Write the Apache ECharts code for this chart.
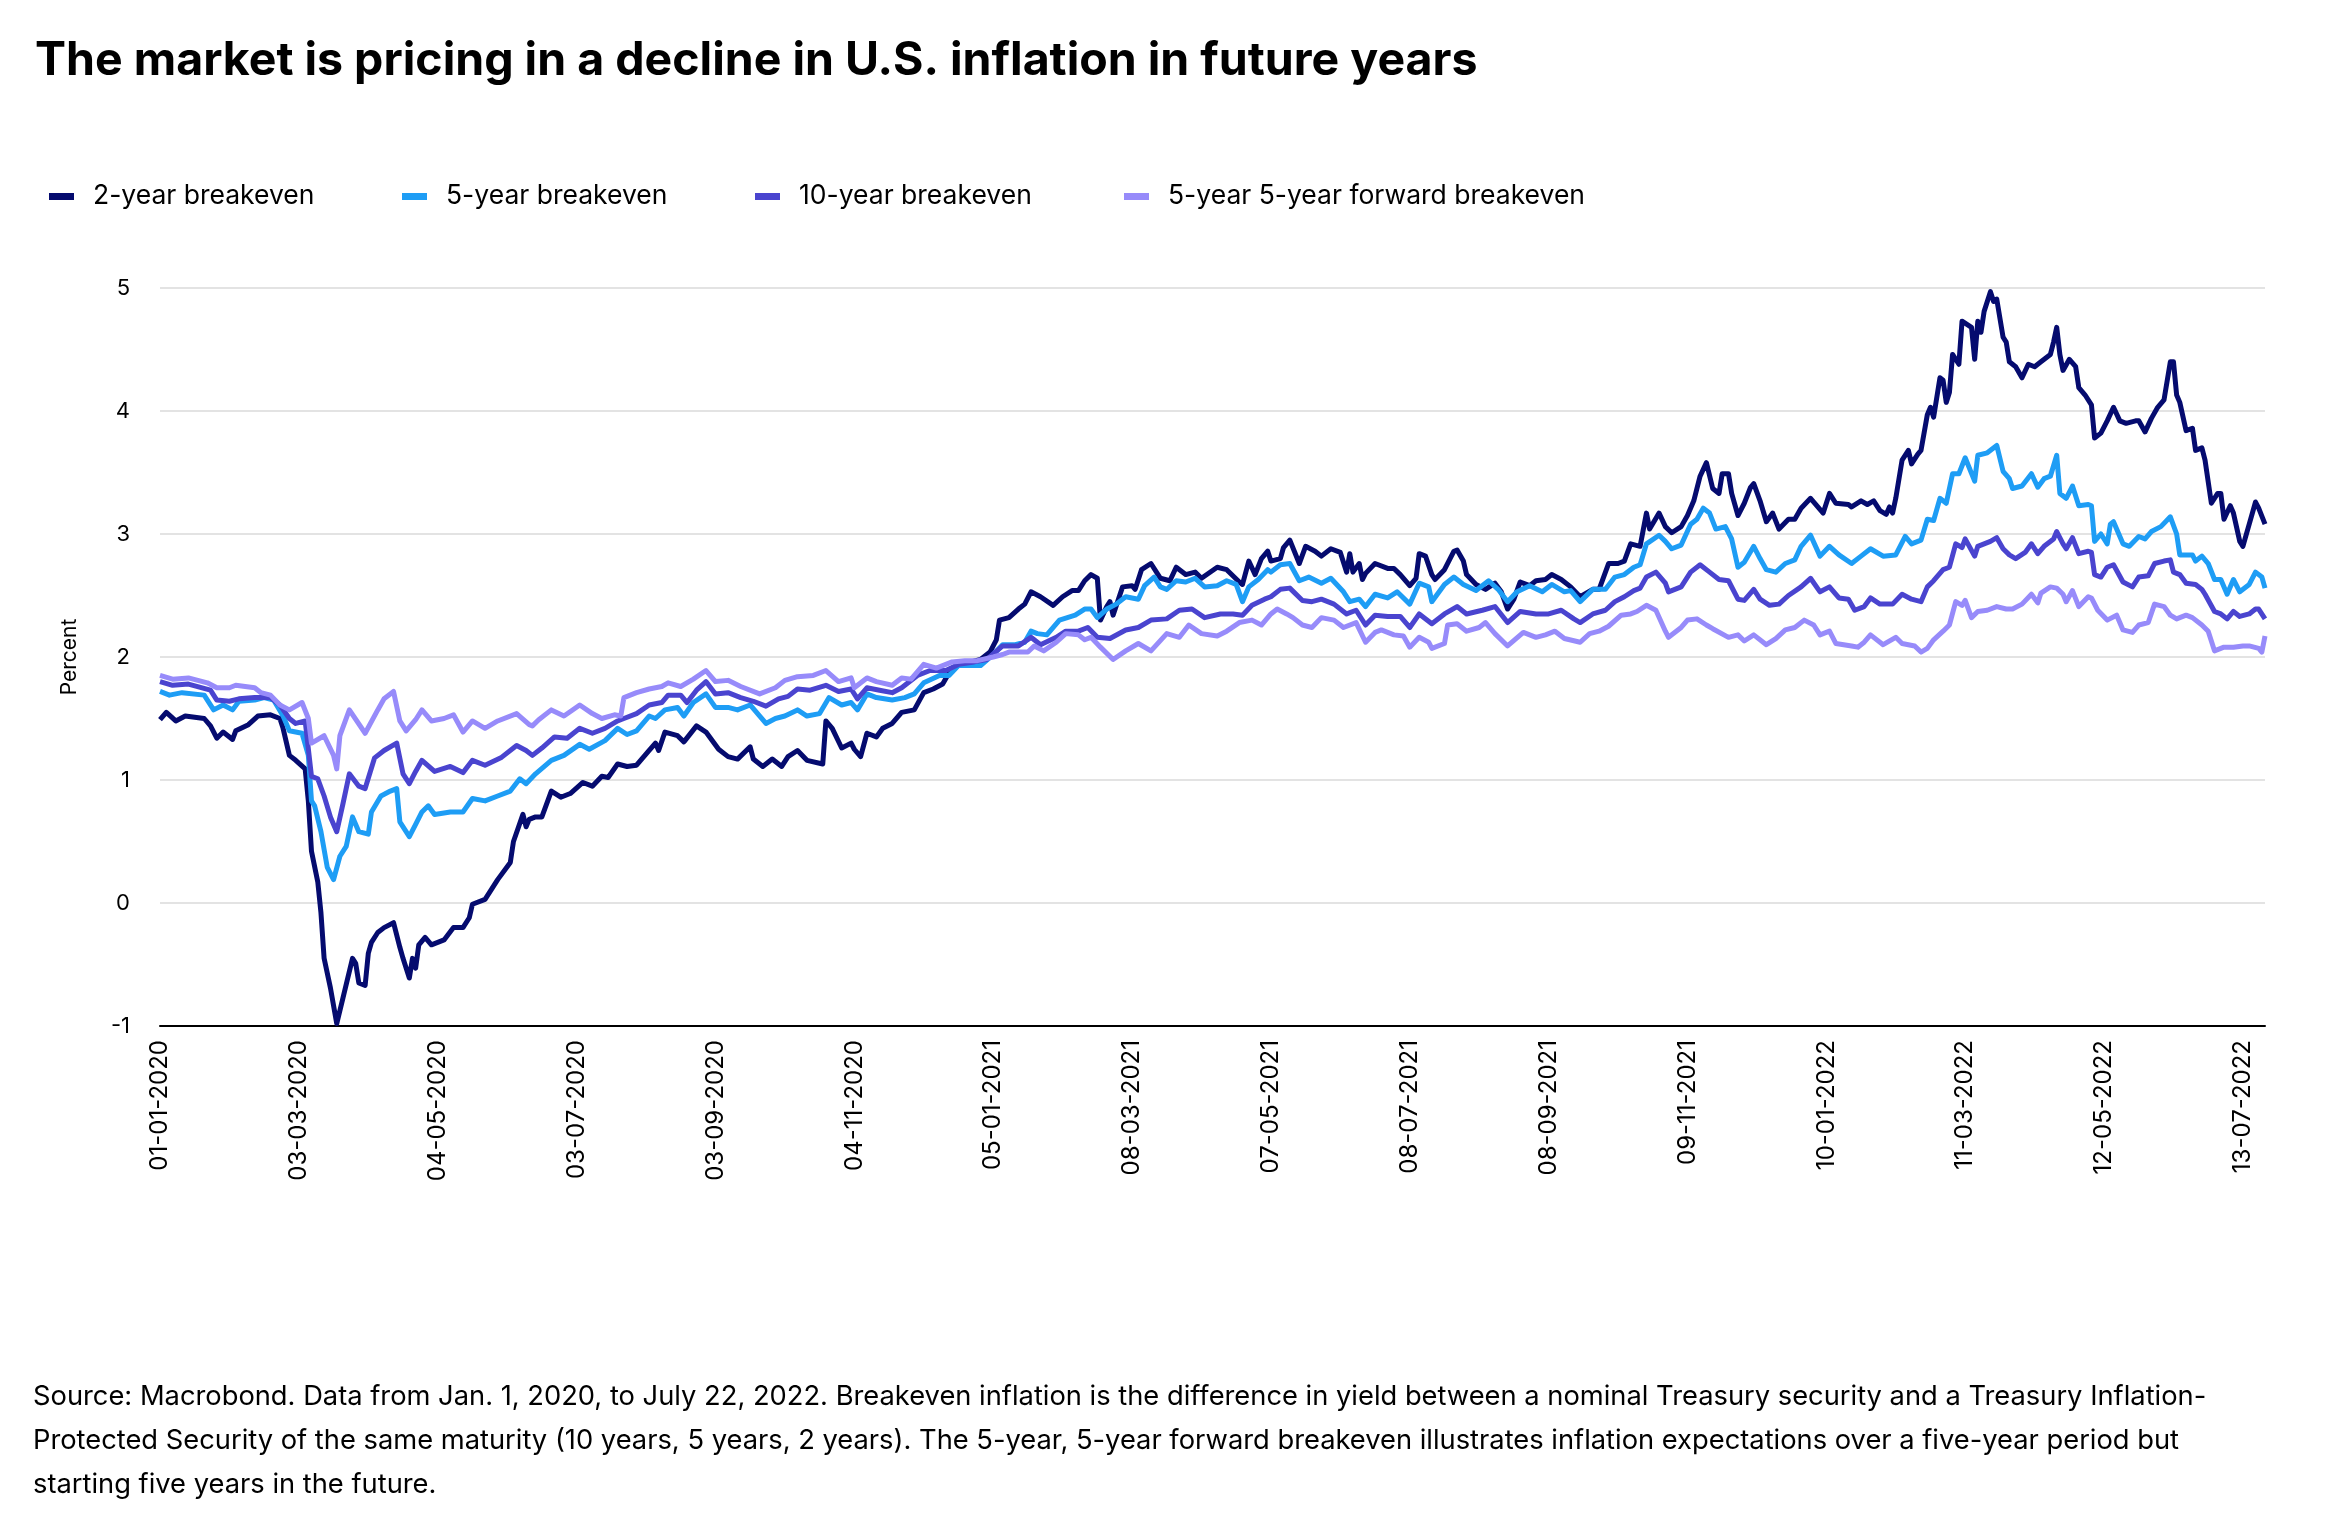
<!DOCTYPE html>
<html>
<head>
<meta charset="utf-8">
<script src="https://cdn.jsdelivr.net/npm/echarts@6/dist/echarts.min.js"></script>
<style>
html,body{margin:0;padding:0;background:#fff;}
#chart{width:2332px;height:1524px;}
</style>
</head>
<body>
<div id="chart"></div>
<script>
// x = business-day index counted from 01-01-2020 (weekdays only)
const xTickIdx = [0,44,88,132,176,220,264,308,352,396,440,484,528,572,616,660];
const xTickLabels = ['01-01-2020','03-03-2020','04-05-2020','03-07-2020','03-09-2020','04-11-2020','05-01-2021','08-03-2021','07-05-2021','08-07-2021','08-09-2021','09-11-2021','10-01-2022','11-03-2022','12-05-2022','13-07-2022'];
const yTicks = [-1,0,1,2,3,4,5];
const seriesNames = ['2-year breakeven','5-year breakeven','10-year breakeven','5-year 5-year forward breakeven'];

const twoYear = [[0,1.49],[2,1.55],[5,1.48],[8,1.52],[14,1.50],[16,1.44],[18,1.34],[20,1.39],[23,1.33],[24,1.40],[28,1.45],[31,1.52],[35,1.53],[38,1.50],[39,1.42],[41,1.20],[43,1.16],[46,1.09],[47,0.83],[48,0.42],[50,0.17],[51,-0.08],[52,-0.45],[54,-0.69],[56,-0.98],[58,-0.77],[61,-0.45],[62,-0.49],[63,-0.65],[65,-0.67],[66,-0.41],[67,-0.32],[69,-0.24],[71,-0.20],[74,-0.16],[76,-0.36],[77,-0.45],[79,-0.61],[80,-0.45],[81,-0.53],[82,-0.34],[84,-0.28],[86,-0.34],[90,-0.30],[93,-0.20],[96,-0.20],[98,-0.12],[99,-0.01],[103,0.03],[107,0.19],[111,0.33],[112,0.50],[115,0.72],[116,0.62],[117,0.68],[119,0.70],[121,0.70],[124,0.91],[127,0.86],[130,0.89],[134,0.98],[137,0.95],[140,1.03],[142,1.02],[145,1.13],[148,1.11],[151,1.12],[155,1.24],[157,1.30],[158,1.24],[160,1.39],[164,1.36],[166,1.31],[170,1.44],[173,1.39],[177,1.25],[180,1.19],[183,1.17],[187,1.27],[188,1.17],[191,1.11],[194,1.17],[197,1.11],[199,1.19],[202,1.24],[205,1.16],[210,1.13],[211,1.48],[213,1.42],[216,1.26],[219,1.30],[220,1.25],[222,1.19],[224,1.38],[227,1.35],[229,1.42],[232,1.46],[235,1.55],[239,1.57],[242,1.71],[245,1.74],[248,1.78],[250,1.87],[253,1.95],[257,1.96],[260,1.98],[263,2.04],[265,2.14],[266,2.30],[269,2.32],[272,2.39],[274,2.43],[276,2.53],[279,2.49],[283,2.42],[286,2.49],[289,2.54],[291,2.54],[293,2.62],[295,2.67],[297,2.64],[298,2.30],[300,2.41],[301,2.45],[302,2.34],[305,2.57],[308,2.58],[309,2.55],[311,2.71],[314,2.76],[317,2.64],[320,2.62],[322,2.73],[325,2.67],[328,2.69],[330,2.64],[335,2.73],[338,2.71],[342,2.61],[343,2.59],[345,2.78],[347,2.67],[349,2.80],[351,2.86],[352,2.78],[355,2.80],[356,2.89],[358,2.95],[361,2.76],[363,2.90],[366,2.86],[368,2.82],[371,2.88],[374,2.85],[376,2.69],[377,2.84],[378,2.69],[380,2.76],[381,2.63],[382,2.68],[385,2.76],[389,2.72],[391,2.72],[393,2.67],[396,2.58],[398,2.64],[399,2.84],[401,2.82],[403,2.67],[404,2.63],[407,2.71],[410,2.86],[411,2.87],[413,2.78],[414,2.67],[417,2.59],[420,2.55],[423,2.60],[425,2.53],[427,2.39],[429,2.47],[431,2.61],[434,2.58],[436,2.62],[439,2.63],[441,2.67],[444,2.63],[447,2.57],[450,2.49],[454,2.55],[456,2.55],[459,2.76],[462,2.76],[464,2.78],[466,2.92],[469,2.90],[471,3.17],[472,3.04],[475,3.17],[477,3.06],[479,3.01],[482,3.06],[484,3.15],[486,3.27],[488,3.47],[490,3.58],[492,3.37],[494,3.33],[495,3.49],[497,3.49],[498,3.33],[500,3.15],[502,3.25],[504,3.38],[505,3.41],[507,3.27],[509,3.10],[511,3.17],[513,3.04],[516,3.12],[518,3.12],[520,3.21],[523,3.29],[527,3.17],[529,3.33],[531,3.25],[535,3.24],[536,3.22],[539,3.27],[541,3.24],[543,3.27],[545,3.19],[547,3.16],[548,3.22],[549,3.17],[550,3.29],[552,3.60],[554,3.68],[555,3.57],[557,3.65],[558,3.68],[560,3.97],[561,4.03],[562,3.95],[564,4.27],[565,4.25],[566,4.07],[567,4.15],[568,4.46],[570,4.38],[571,4.73],[574,4.68],[575,4.42],[576,4.73],[577,4.64],[578,4.81],[580,4.97],[581,4.89],[582,4.91],[584,4.60],[585,4.56],[586,4.40],[588,4.36],[590,4.27],[592,4.38],[594,4.36],[596,4.40],[599,4.46],[600,4.56],[601,4.68],[602,4.46],[603,4.33],[605,4.42],[607,4.36],[608,4.19],[610,4.13],[612,4.05],[613,3.78],[615,3.82],[617,3.92],[619,4.03],[621,3.92],[623,3.90],[626,3.92],[627,3.92],[629,3.83],[631,3.94],[633,4.03],[635,4.09],[637,4.40],[638,4.40],[639,4.13],[640,4.07],[642,3.84],[644,3.86],[645,3.68],[647,3.70],[648,3.60],[650,3.25],[652,3.33],[653,3.33],[654,3.12],[656,3.23],[657,3.17],[659,2.94],[660,2.90],[662,3.08],[664,3.26],[665,3.21],[667,3.08]];

const fiveYear = [[0,1.72],[3,1.69],[7,1.71],[14,1.69],[17,1.57],[20,1.61],[23,1.57],[25,1.64],[30,1.65],[33,1.67],[36,1.65],[39,1.52],[41,1.40],[45,1.38],[47,1.20],[48,0.83],[49,0.79],[51,0.58],[53,0.29],[55,0.19],[57,0.38],[59,0.46],[61,0.70],[63,0.58],[66,0.56],[67,0.74],[70,0.87],[73,0.91],[75,0.93],[76,0.66],[79,0.54],[81,0.64],[83,0.74],[85,0.79],[87,0.72],[92,0.74],[96,0.74],[99,0.85],[103,0.83],[107,0.87],[111,0.91],[114,1.01],[116,0.97],[119,1.05],[124,1.16],[128,1.20],[133,1.29],[136,1.25],[141,1.32],[145,1.42],[148,1.37],[151,1.40],[155,1.52],[157,1.50],[160,1.57],[164,1.59],[166,1.52],[169,1.63],[173,1.70],[176,1.59],[180,1.59],[183,1.57],[187,1.61],[192,1.46],[195,1.50],[198,1.52],[202,1.57],[205,1.52],[209,1.54],[212,1.67],[216,1.61],[219,1.63],[221,1.57],[224,1.70],[227,1.67],[232,1.65],[236,1.67],[239,1.70],[242,1.79],[247,1.85],[250,1.85],[253,1.93],[257,1.93],[260,1.93],[264,2.02],[267,2.10],[271,2.10],[274,2.12],[276,2.21],[278,2.19],[281,2.18],[285,2.30],[290,2.34],[293,2.39],[295,2.39],[297,2.32],[300,2.39],[303,2.43],[306,2.49],[310,2.47],[312,2.58],[315,2.65],[317,2.57],[319,2.55],[322,2.62],[325,2.61],[328,2.64],[331,2.57],[335,2.58],[338,2.62],[341,2.59],[343,2.45],[345,2.57],[348,2.63],[351,2.71],[352,2.69],[355,2.75],[358,2.76],[361,2.62],[364,2.65],[368,2.60],[371,2.64],[375,2.53],[377,2.45],[380,2.47],[382,2.41],[385,2.51],[389,2.48],[392,2.53],[396,2.43],[399,2.60],[402,2.57],[403,2.45],[407,2.59],[410,2.65],[413,2.59],[417,2.54],[421,2.62],[424,2.55],[427,2.45],[430,2.53],[434,2.58],[438,2.53],[441,2.59],[445,2.53],[447,2.54],[450,2.45],[454,2.55],[458,2.55],[461,2.65],[464,2.67],[467,2.73],[469,2.75],[471,2.92],[475,2.99],[477,2.94],[479,2.88],[482,2.91],[485,3.08],[487,3.12],[489,3.21],[491,3.17],[493,3.04],[496,3.06],[498,2.96],[500,2.73],[502,2.77],[505,2.90],[507,2.80],[509,2.71],[512,2.69],[515,2.76],[518,2.79],[520,2.90],[523,2.99],[526,2.82],[529,2.90],[532,2.83],[536,2.76],[539,2.82],[542,2.88],[546,2.82],[550,2.83],[553,2.98],[555,2.92],[558,2.95],[560,3.12],[562,3.11],[564,3.29],[566,3.25],[568,3.49],[570,3.49],[572,3.62],[575,3.43],[576,3.64],[579,3.66],[582,3.72],[584,3.51],[586,3.45],[587,3.37],[590,3.39],[593,3.49],[595,3.38],[597,3.45],[599,3.47],[601,3.64],[602,3.33],[604,3.29],[606,3.39],[608,3.23],[611,3.24],[612,3.23],[613,2.94],[615,3.00],[617,2.92],[618,3.08],[619,3.10],[622,2.92],[624,2.90],[627,2.98],[629,2.96],[631,3.02],[634,3.06],[637,3.14],[639,3.00],[640,2.83],[644,2.83],[645,2.78],[647,2.82],[649,2.76],[651,2.63],[653,2.63],[655,2.51],[657,2.63],[659,2.53],[662,2.59],[664,2.69],[666,2.65],[667,2.56]];

const tenYear = [[0,1.80],[4,1.77],[9,1.78],[16,1.73],[18,1.65],[22,1.64],[25,1.66],[30,1.67],[35,1.67],[38,1.61],[41,1.50],[43,1.46],[46,1.48],[48,1.03],[50,1.01],[52,0.87],[54,0.70],[56,0.58],[58,0.81],[60,1.05],[63,0.95],[65,0.93],[68,1.18],[71,1.24],[75,1.30],[77,1.05],[79,0.97],[81,1.07],[83,1.16],[87,1.07],[92,1.11],[96,1.06],[99,1.16],[103,1.12],[108,1.18],[113,1.28],[116,1.24],[118,1.20],[121,1.26],[125,1.35],[129,1.34],[133,1.42],[137,1.38],[141,1.42],[145,1.48],[147,1.50],[151,1.54],[155,1.61],[159,1.63],[161,1.69],[165,1.69],[167,1.63],[170,1.73],[173,1.80],[176,1.70],[180,1.71],[184,1.67],[188,1.64],[192,1.60],[196,1.66],[199,1.68],[202,1.74],[206,1.73],[211,1.77],[215,1.72],[219,1.74],[221,1.66],[224,1.75],[228,1.73],[232,1.71],[235,1.75],[240,1.85],[244,1.89],[249,1.89],[253,1.94],[258,1.96],[262,1.98],[267,2.09],[272,2.09],[276,2.16],[279,2.10],[284,2.16],[287,2.21],[291,2.21],[294,2.24],[297,2.16],[301,2.15],[306,2.22],[310,2.24],[314,2.30],[319,2.31],[323,2.38],[327,2.39],[331,2.32],[336,2.35],[340,2.35],[343,2.34],[346,2.42],[350,2.47],[352,2.49],[355,2.55],[358,2.56],[362,2.46],[365,2.45],[368,2.47],[372,2.43],[376,2.35],[379,2.38],[382,2.26],[385,2.34],[389,2.33],[393,2.33],[396,2.24],[399,2.35],[403,2.27],[407,2.35],[411,2.41],[414,2.35],[419,2.38],[423,2.41],[427,2.28],[431,2.37],[436,2.35],[440,2.35],[444,2.38],[448,2.31],[450,2.28],[454,2.35],[458,2.38],[461,2.45],[464,2.49],[467,2.54],[469,2.56],[471,2.65],[474,2.69],[477,2.60],[478,2.53],[482,2.57],[485,2.69],[488,2.75],[491,2.69],[494,2.63],[497,2.62],[500,2.47],[502,2.46],[505,2.55],[507,2.47],[510,2.42],[513,2.43],[516,2.50],[520,2.57],[523,2.64],[526,2.53],[529,2.57],[532,2.48],[535,2.47],[537,2.38],[540,2.41],[542,2.48],[545,2.43],[549,2.43],[552,2.51],[555,2.47],[558,2.45],[560,2.57],[562,2.62],[565,2.71],[567,2.73],[569,2.92],[571,2.89],[572,2.96],[575,2.82],[576,2.90],[580,2.94],[582,2.97],[584,2.88],[586,2.83],[588,2.80],[591,2.85],[593,2.92],[595,2.84],[597,2.90],[600,2.96],[601,3.02],[603,2.92],[604,2.88],[606,2.97],[608,2.84],[611,2.86],[612,2.85],[613,2.67],[615,2.65],[617,2.73],[619,2.75],[622,2.61],[625,2.57],[627,2.65],[630,2.66],[632,2.76],[635,2.78],[637,2.79],[638,2.69],[640,2.67],[642,2.60],[645,2.59],[647,2.55],[648,2.51],[651,2.37],[653,2.35],[655,2.31],[657,2.37],[659,2.33],[662,2.35],[664,2.39],[665,2.39],[667,2.31]];

const fwd5y5y = [[0,1.85],[4,1.82],[9,1.83],[15,1.79],[18,1.75],[22,1.75],[24,1.77],[30,1.75],[32,1.71],[35,1.69],[38,1.61],[41,1.57],[45,1.63],[47,1.50],[48,1.30],[52,1.36],[55,1.20],[56,1.09],[57,1.36],[60,1.57],[65,1.38],[69,1.57],[71,1.66],[74,1.72],[76,1.48],[78,1.40],[81,1.49],[83,1.57],[86,1.48],[90,1.50],[93,1.53],[96,1.39],[99,1.48],[103,1.42],[107,1.48],[113,1.54],[117,1.45],[118,1.44],[120,1.49],[124,1.57],[128,1.52],[133,1.61],[137,1.54],[140,1.50],[144,1.53],[146,1.52],[147,1.67],[151,1.71],[155,1.74],[159,1.76],[161,1.79],[165,1.76],[169,1.82],[173,1.89],[176,1.80],[180,1.81],[184,1.76],[190,1.70],[195,1.75],[198,1.81],[202,1.84],[207,1.85],[211,1.89],[215,1.80],[219,1.83],[220,1.75],[224,1.83],[227,1.80],[232,1.77],[235,1.83],[238,1.82],[242,1.94],[246,1.91],[251,1.96],[255,1.97],[259,1.97],[264,2.00],[267,2.02],[269,2.04],[272,2.04],[275,2.04],[277,2.09],[280,2.05],[284,2.12],[287,2.19],[291,2.18],[293,2.14],[295,2.16],[298,2.08],[302,1.98],[306,2.05],[310,2.11],[314,2.05],[319,2.19],[323,2.16],[326,2.26],[330,2.19],[335,2.17],[338,2.21],[342,2.28],[346,2.30],[349,2.26],[352,2.35],[354,2.39],[357,2.35],[359,2.32],[362,2.26],[365,2.24],[368,2.32],[372,2.30],[375,2.24],[379,2.28],[382,2.12],[385,2.20],[387,2.22],[391,2.18],[394,2.17],[396,2.08],[399,2.16],[402,2.12],[403,2.07],[407,2.11],[408,2.26],[411,2.27],[414,2.21],[418,2.24],[420,2.28],[423,2.19],[427,2.09],[432,2.20],[436,2.16],[439,2.18],[442,2.21],[445,2.15],[450,2.12],[453,2.19],[456,2.21],[459,2.25],[463,2.34],[466,2.35],[468,2.37],[471,2.42],[474,2.38],[477,2.21],[478,2.16],[482,2.24],[484,2.30],[487,2.31],[490,2.26],[492,2.23],[497,2.16],[500,2.18],[502,2.13],[505,2.18],[509,2.10],[512,2.15],[515,2.22],[518,2.24],[521,2.30],[524,2.26],[526,2.18],[529,2.21],[531,2.11],[536,2.09],[538,2.08],[540,2.12],[542,2.18],[546,2.10],[550,2.16],[552,2.11],[556,2.09],[558,2.04],[560,2.07],[562,2.14],[565,2.21],[567,2.26],[569,2.45],[571,2.42],[572,2.46],[574,2.32],[576,2.37],[579,2.38],[582,2.41],[585,2.39],[587,2.39],[590,2.43],[593,2.51],[595,2.44],[596,2.52],[599,2.57],[601,2.56],[603,2.51],[604,2.45],[606,2.54],[608,2.41],[611,2.49],[612,2.48],[614,2.38],[617,2.30],[620,2.34],[622,2.22],[625,2.20],[627,2.26],[630,2.28],[632,2.43],[635,2.41],[637,2.34],[639,2.31],[642,2.34],[644,2.32],[647,2.26],[649,2.21],[651,2.05],[654,2.08],[657,2.08],[660,2.09],[662,2.09],[665,2.07],[666,2.04],[667,2.17]];

const seriesData = [twoYear, fiveYear, tenYear, fwd5y5y];
const colors = ['#050b6f','#1e9df5','#4a44cf','#978bfa'];

const titleText = 'The market is pricing in a decline in U.S. inflation in future years';
const noteLines = [
  'Source: Macrobond. Data from Jan. 1, 2020, to July 22, 2022. Breakeven inflation is the difference in yield between a nominal Treasury security and a Treasury Inflation-',
  'Protected Security of the same maturity (10 years, 5 years, 2 years). The 5-year, 5-year forward breakeven illustrates inflation expectations over a five-year period but',
  'starting five years in the future.'
];

const FONT = 'Inter, "Noto Sans", sans-serif';
const legendLeft = [44, 397, 750, 1119];

const chart = echarts.init(document.getElementById('chart'), null, {renderer: 'canvas'});
chart.setOption({
  backgroundColor: '#ffffff',
  animation: false,
  color: colors,
  title: {
    text: titleText,
    left: 30, top: 33,
    textStyle: {fontFamily: FONT, fontSize: 46.5, fontWeight: 'bold', color: '#000'}
  },
  legend: seriesNames.map((n, i) => ({
    data: [n],
    left: legendLeft[i], top: 178,
    icon: 'rect', itemWidth: 25, itemHeight: 7,
    selectedMode: false,
    textStyle: {fontFamily: FONT, fontSize: 26.5, color: '#000', padding: [0, 0, 0, 14]}
  })),
  grid: {left: 160, right: 67, top: 288, bottom: 498, containLabel: false},
  xAxis: {
    type: 'value', min: 0, max: 667, interval: 44,
    axisLine: {show: true, onZero: false, lineStyle: {color: '#000', width: 2}},
    axisTick: {show: false},
    splitLine: {show: false},
    axisLabel: {
      customValues: xTickIdx,
      rotate: 90, margin: 14,
      fontFamily: FONT, fontSize: 24, color: '#000',
      formatter: v => { const k = xTickIdx.indexOf(v); return k >= 0 ? xTickLabels[k] : ''; }
    }
  },
  yAxis: {
    type: 'value', min: yTicks[0], max: yTicks[yTicks.length - 1], interval: 1,
    name: 'Percent', nameLocation: 'middle', nameGap: 80, nameRotate: 90,
    nameTextStyle: {fontFamily: FONT, fontSize: 21, color: '#000'},
    axisLine: {show: false}, axisTick: {show: false},
    axisLabel: {margin: 30, fontFamily: FONT, fontSize: 22, color: '#000'},
    splitLine: {show: true, lineStyle: {color: '#e3e3e3', width: 2}}
  },
  series: seriesNames.map((n, i) => ({
    name: n, type: 'line', data: seriesData[i],
    showSymbol: false, symbol: 'none',
    lineStyle: {width: 5, color: colors[i], join: 'round'},
    itemStyle: {color: colors[i]}
  })),
  graphic: [{
    type: 'text', left: 33, top: 1375,
    style: {text: noteLines.join('\n'), font: '27.3px ' + FONT, fill: '#000', lineHeight: 44}
  }]
});
</script>
</body>
</html>
